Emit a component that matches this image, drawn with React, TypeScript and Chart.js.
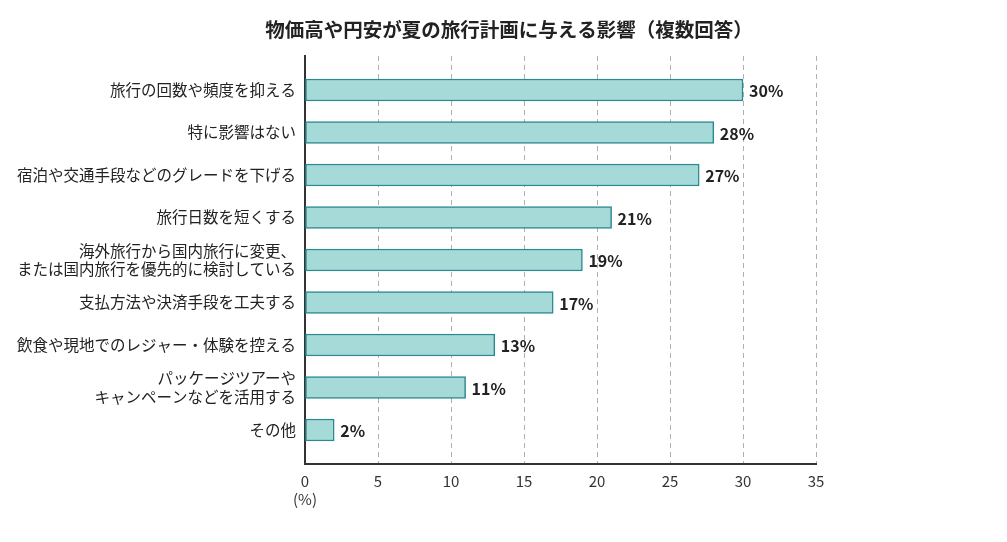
import React, { useEffect, useRef } from 'react'
import { Chart, registerables } from 'chart.js'

Chart.register(...registerables)

const TITLE = '物価高や円安が夏の旅行計画に与える影響（複数回答）'

const categories: string[][] = [
  ['旅行の回数や頻度を抑える'],
  ['特に影響はない'],
  ['宿泊や交通手段などのグレードを下げる'],
  ['旅行日数を短くする'],
  ['海外旅行から国内旅行に変更、', 'または国内旅行を優先的に検討している'],
  ['支払方法や決済手段を工夫する'],
  ['飲食や現地でのレジャー・体験を控える'],
  ['パッケージツアーや', 'キャンペーンなどを活用する'],
  ['その他'],
]

const values = [30, 28, 27, 21, 19, 17, 13, 11, 2]

const xTicks = [0, 5, 10, 15, 20, 25, 30, 35]

const FONT = '"Noto Sans CJK JP", "Noto Sans", sans-serif'

const overlay = {
  id: 'overlay',
  afterDraw(chart: Chart) {
    const { ctx, scales } = chart
    const x = scales.x
    const y = scales.y
    ctx.save()
    // title
    ctx.fillStyle = '#222'
    ctx.font = `bold 19.5px ${FONT}`
    ctx.textAlign = 'center'
    ctx.textBaseline = 'middle'
    ctx.fillText(TITLE, 509, 30)
    // value labels
    ctx.font = `bold 16px ${FONT}`
    ctx.textAlign = 'left'
    values.forEach((v, i) => {
      ctx.fillText(`${v}%`, x.getPixelForValue(v) + 6, y.getPixelForValue(i) + 1)
    })
    // unit
    ctx.font = `15px ${FONT}`
    ctx.fillStyle = '#333'
    ctx.textAlign = 'center'
    ctx.fillText('(%)', x.getPixelForValue(0), 499)
    ctx.restore()
  },
}

export default function App() {
  const chartRef = useRef<HTMLCanvasElement>(null)
  const chartInstance = useRef<Chart | null>(null)

  useEffect(() => {
    document.body.style.margin = '0'
    if (!chartRef.current) return
    if (chartInstance.current) chartInstance.current.destroy()

    chartInstance.current = new Chart(chartRef.current, {
      type: 'bar',
      data: {
        datasets: [{
          data: values.map((v, i) => ({ x: v, y: i })),
          backgroundColor: '#a6dad8',
          borderColor: '#2b8a8f',
          borderWidth: 1.5,
          borderSkipped: false,
          barThickness: 22,
        }],
      },
      options: {
        indexAxis: 'y',
        animation: false,
        responsive: false,
        layout: { padding: { top: 56, right: 191, left: 0, bottom: 0 } },
        plugins: {
          legend: { display: false },
          tooltip: { enabled: false },
        },
        scales: {
          x: {
            type: 'linear',
            min: 0,
            max: 35,
            afterBuildTicks: (axis: any) => { axis.ticks = xTicks.map(v => ({ value: v })) },
            afterFit: (scale: any) => { scale.height = 78 },
            grid: { color: '#b0b0b0', lineWidth: 1, drawTicks: false },
            border: { display: true, color: '#333', width: 2, dash: [5, 4] },
            ticks: {
              padding: 8,
              color: '#333',
              font: { family: FONT, size: 15 },
            },
          },
          y: {
            type: 'linear',
            reverse: true,
            offset: false,
            min: -0.8,
            max: 8.8,
            afterBuildTicks: (axis: any) => { axis.ticks = categories.map((_, i) => ({ value: i })) },
            afterFit: (scale: any) => { scale.width = 305 },
            grid: { display: false, drawTicks: false },
            border: { display: true, color: '#333', width: 2 },
            ticks: {
              padding: 9,
              color: '#222',
              font: { family: FONT, size: 15.5, lineHeight: 1.2 },
              callback: (v: any) => categories[v as number] ?? '',
            },
          },
        },
      },
      plugins: [overlay],
    })

    return () => chartInstance.current?.destroy()
  }, [])

  return (
    <div style={{ width: 1007, height: 542, background: '#fff' }}>
      <canvas ref={chartRef} width={1007} height={542} />
    </div>
  )
}
